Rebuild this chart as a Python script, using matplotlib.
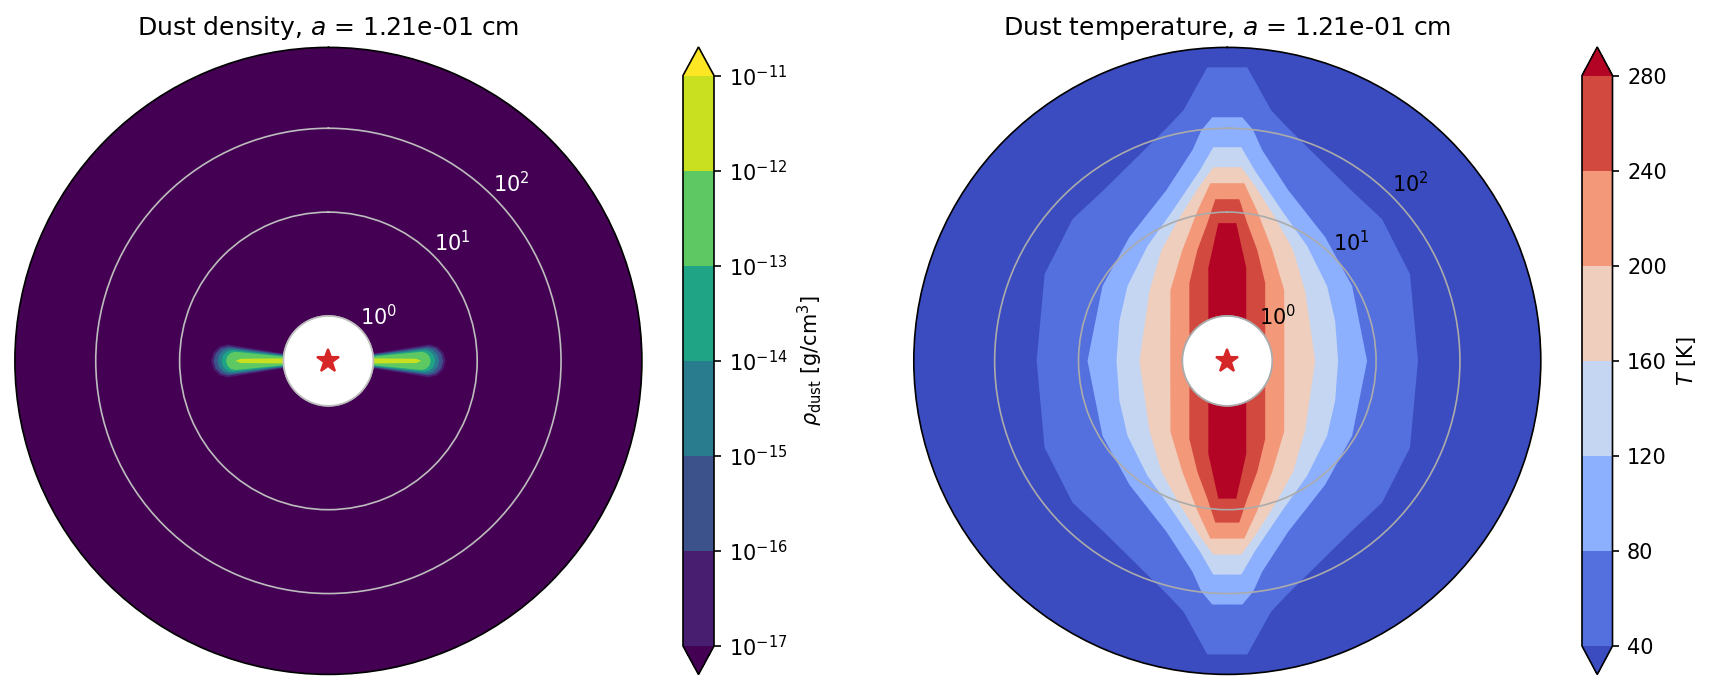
import numpy as np
import matplotlib
matplotlib.use('Agg')
import matplotlib.pyplot as plt
from matplotlib.colors import ListedColormap, BoundaryNorm
from matplotlib.cm import ScalarMappable

# ---------------- data ----------------
grain_size = '1.21e-01'
rho_levels = [1e-17, 1e-16, 1e-15, 1e-14, 1e-13, 1e-12, 1e-11]
rho_exponents = [-17, -16, -15, -14, -13, -12, -11]
T_levels = [40, 80, 120, 160, 200, 240, 280]
r_ticks = [1, 10, 100]
r_tick_labels = [r'$10^0$', r'$10^1$', r'$10^2$']

# isotherms (one quadrant): colatitude from the pole [deg], radius [au]
T40_alpha = [0, 3.89, 9.94, 14.38, 35.95, 47.5, 64.57, 90]
T40_r = [547.3, 558.1, 183.4, 126.9, 54.56, 53.07, 43.0, 31.22]
T80_alpha = [0, 3.52, 6.42, 9.42, 19.63, 38.32, 59.04, 90]
T80_r = [135.7, 137.6, 98.5, 58.8, 24.13, 12.74, 9.18, 7.88]
T120_alpha = [0, 3.74, 8.38, 20.14, 34.82, 53.13, 69.68, 90]
T120_r = [58.96, 59.77, 32.19, 13.34, 7.90, 5.34, 4.18, 3.77]
T160_alpha = [0, 4.13, 9.09, 19.65, 30.73, 48.1, 90]
T160_r = [33.92, 34.39, 21.39, 9.91, 5.93, 3.24, 2.21]
T200_alpha = [0, 5.46, 11.31, 22.07, 38.76, 90]
T200_r = [21.86, 22.35, 11.11, 4.69, 2.36, 1.21]
T240_alpha = [0, 4.24, 8.25, 15.12, 25.98, 57.6, 90]
T240_r = [14.15, 14.31, 7.75, 4.16, 2.15, 1.0, 0.9]
T280_alpha = [0, 3.73, 11.55, 24.97, 90]
T280_r = [7.47, 7.53, 2.58, 1.0, 0.9]

# dust density contours (disk lobes): angle from midplane [deg], radius [au]
rho17_beta = [9.3, 9.3, 7.46, 4.10, 0.0]
rho17_r = [0.9, 3.05, 3.69, 4.21, 4.41]
rho16_beta = [8.27, 8.27, 6.69, 3.70, 0.0]
rho16_r = [0.9, 3.00, 3.54, 3.98, 4.16]
rho15_beta = [7.4, 7.4, 6.05, 3.35, 0.0]
rho15_r = [0.9, 2.84, 3.28, 3.64, 3.77]
rho14_beta = [6.5, 6.5, 5.31, 2.96, 0.0]
rho14_r = [0.9, 2.68, 3.04, 3.31, 3.42]
rho13_beta = [5.6, 5.6, 4.65, 2.6, 0.0]
rho13_r = [0.9, 2.51, 2.78, 2.99, 3.07]
rho12_beta = [4.0, 1.4, 0.0]
rho12_r = [0.9, 2.2, 2.47]

# ---------------- helpers ----------------
R_SHIFT = 0.48


def fwd(r):
    r = np.asarray(r, dtype=float)
    return np.log10(np.clip(r - R_SHIFT, 1e-9, None))


def inv(y):
    return 10 ** np.asarray(y, dtype=float) + R_SHIFT


def ring(alpha, r):
    a = np.asarray(alpha, float)
    rr = np.asarray(r, float)
    th = np.concatenate([a, 180 - a[::-1], 180 + a, 360 - a[::-1]])
    rv = np.concatenate([rr, rr[::-1], rr, rr[::-1]])
    return np.deg2rad(th), rv


def lobes(beta, r):
    b = np.asarray(beta, float)
    rr = np.asarray(r, float)
    out = []
    for c in (90.0, 270.0):
        th = np.concatenate([c - b, c + b[::-1]])
        rv = np.concatenate([rr, rr[::-1]])
        out.append((np.deg2rad(th), rv))
    return out


def setup_polar(ax, labelcolor, gridcolor):
    ax.set_theta_zero_location('N')
    ax.set_theta_direction(-1)
    ax.set_rscale('function', functions=(fwd, inv))
    ax.set_rorigin(0.628)
    ax.set_rlim(1.0, 957)
    ax.set_rticks(r_ticks)
    ax.set_yticklabels(r_tick_labels)
    ax.set_rlabel_position(45)
    ax.tick_params(axis='y', labelcolor=labelcolor, labelsize=10)
    ax.set_thetagrids([0], labels=[''])
    ax.xaxis.grid(False)
    ax.yaxis.grid(True, color=gridcolor, lw=0.8)
    ax.spines['inner'].set_color(gridcolor)
    ax.spines['inner'].set_linewidth(0.8)
    ax.plot(0.5, 0.5, marker='*', ms=11.5, color='#d62728', ls='none',
            transform=ax.transAxes, clip_on=False, zorder=6)


W, H = 1714, 690
fig = plt.figure(figsize=(W / 150, H / 150), dpi=150)

axL = fig.add_axes([14.9 / W, 1 - 674.4 / H, 627 / W, 627 / H], projection='polar')
axR = fig.add_axes([913.8 / W, 1 - 674.4 / H, 627 / W, 627 / H], projection='polar')
caxL = fig.add_axes([683 / W, 1 - 674.5 / H, 31 / W, 627.5 / H])
caxR = fig.add_axes([1582 / W, 1 - 674.5 / H, 30.5 / W, 627.5 / H])

# ---------- density ----------
vir = plt.get_cmap('viridis')
nb = len(rho_levels) - 1
rho_band = [vir((k + 0.5) / nb) for k in range(nb)]
rho_under, rho_over = vir(0.0), vir(1.0)
axL.set_facecolor(rho_under)
rho_contours = [(rho17_beta, rho17_r), (rho16_beta, rho16_r), (rho15_beta, rho15_r),
                (rho14_beta, rho14_r), (rho13_beta, rho13_r), (rho12_beta, rho12_r)]
for k, (b, r) in enumerate(rho_contours):
    for th, rv in lobes(b, r):
        axL.fill(th, rv, color=rho_band[k], lw=0, zorder=1)
setup_polar(axL, 'white', '#bdbdbd')
axL.set_title(r'Dust density, $a$ = ' + grain_size + ' cm', fontsize=12)

cm_rho = ListedColormap(rho_band)
cm_rho.set_under(rho_under)
cm_rho.set_over(rho_over)
sm_rho = ScalarMappable(norm=BoundaryNorm(rho_levels, nb), cmap=cm_rho)
cbL = fig.colorbar(sm_rho, cax=caxL, extend='both')
cbL.set_ticks(rho_levels, labels=[r'$10^{%d}$' % e for e in rho_exponents])
cbL.set_label(r'$\rho_{\rm dust}$ [g/cm$^3$]')

# ---------- temperature ----------
cw = plt.get_cmap('coolwarm')
nt = len(T_levels) - 1
T_band = [cw((k + 0.5) / nt) for k in range(nt)]
T_under, T_over = cw(0.0), cw(1.0)
axR.set_facecolor(T_under)
isotherms = [(T40_alpha, T40_r), (T80_alpha, T80_r), (T120_alpha, T120_r),
             (T160_alpha, T160_r), (T200_alpha, T200_r), (T240_alpha, T240_r),
             (T280_alpha, T280_r)]
fill_cols = T_band + [T_over]
for k, (a, r) in enumerate(isotherms):
    th, rv = ring(a, r)
    axR.fill(th, rv, color=fill_cols[k], lw=0, zorder=1)
setup_polar(axR, 'black', '#ababab')
axR.set_title(r'Dust temperature, $a$ = ' + grain_size + ' cm', fontsize=12)

cm_T = ListedColormap(T_band)
cm_T.set_under(T_under)
cm_T.set_over(T_over)
sm_T = ScalarMappable(norm=BoundaryNorm(T_levels, nt), cmap=cm_T)
cbR = fig.colorbar(sm_T, cax=caxR, extend='both', ticks=T_levels)
cbR.set_label(r'$T$ [K]')

fig.savefig('out.png', dpi=150)
